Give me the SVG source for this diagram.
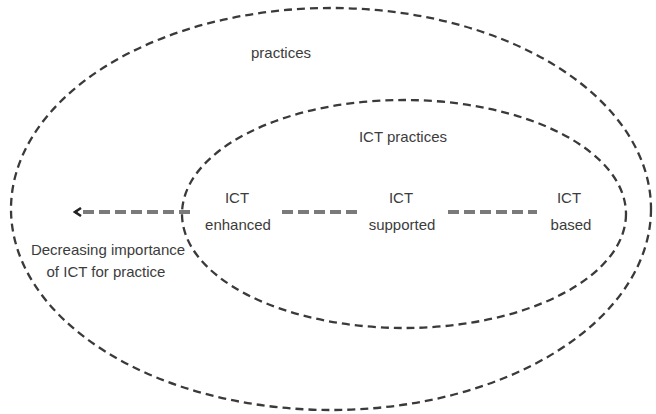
<svg xmlns="http://www.w3.org/2000/svg" width="656" height="414" viewBox="0 0 656 414">
<style>
.ell{fill:none;stroke:#3a3a3a;stroke-width:2.3;stroke-dasharray:8 5}
.t{font-family:"Liberation Sans",Arial,sans-serif;font-size:15px;fill:#3c3c3c;text-anchor:middle}
.c{fill:none;stroke:#7a7a7a;stroke-width:4;stroke-dasharray:11 5}
</style>
<defs>
<marker id="arr" viewBox="0 0 10 10" refX="8" refY="5" markerWidth="10" markerHeight="10" markerUnits="userSpaceOnUse" orient="auto">
<path d="M2,1 L8,5 L2,9" fill="none" stroke="#222" stroke-width="2.5"/>
</marker>
</defs>
<rect width="656" height="414" fill="#fff"/>
<g id="practices">
<ellipse class="ell" cx="331" cy="209" rx="320" ry="201"/>
<text class="t" x="281" y="58">practices</text>
</g>
<g id="ict-practices">
<ellipse class="ell" cx="404" cy="214" rx="222" ry="114"/>
<text class="t" x="403" y="142">ICT practices</text>
</g>
<g id="ict-enhanced">
<text class="t" x="237" y="203">ICT</text>
<text class="t" x="238" y="230">enhanced</text>
</g>
<g id="ict-supported">
<text class="t" x="401" y="203">ICT</text>
<text class="t" x="402" y="230">supported</text>
</g>
<g id="ict-based">
<text class="t" x="569" y="203">ICT</text>
<text class="t" x="571" y="230">based</text>
</g>
<g id="decreasing-label">
<text class="t" x="108" y="255">Decreasing importance</text>
<text class="t" x="106" y="277">of ICT for practice</text>
</g>
<g id="connectors">
<line class="c" x1="190" y1="212" x2="75" y2="212" marker-end="url(#arr)"/>
<line class="c" x1="282" y1="212" x2="360" y2="212"/>
<line class="c" x1="448" y1="212" x2="537" y2="212"/>
</g>
</svg>
